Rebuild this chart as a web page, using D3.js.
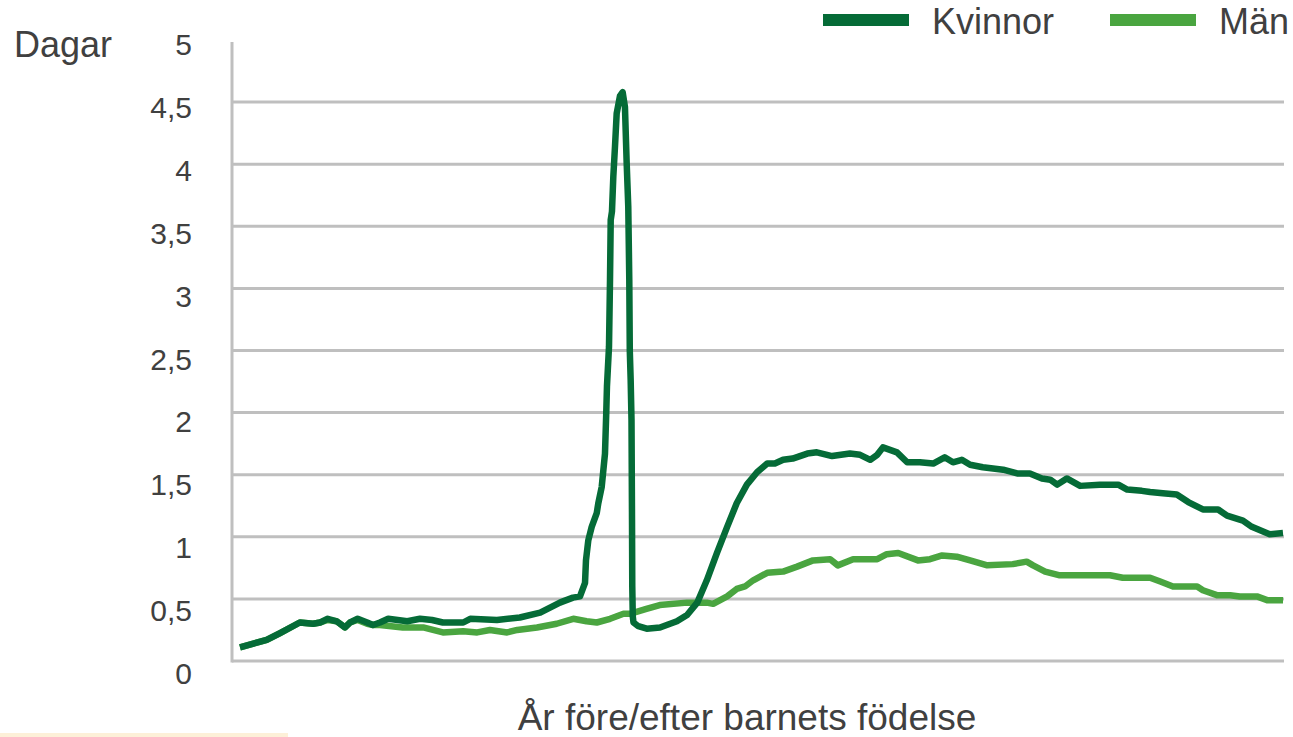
<!DOCTYPE html>
<html>
<head>
<meta charset="utf-8">
<script src="https://cdn.jsdelivr.net/npm/d3@7"></script>
<style>
  body { margin: 0; background: #fff; }
  svg { display: block; font-family: "Liberation Sans", Arial, sans-serif; }
</style>
</head>
<body>
<svg id="chart"></svg>
<script>
// manader relativt barnets fodelse (avlast ur bilden)
const manaderKvinnor = [-60, -55.8, -53.7, -50.6, -48.5, -47.4, -46.2, -44.8, -43.5, -42.7, -41.5, -40.0, -39.1, -38.0, -36.7,
  -33.7, -31.7, -29.8, -28.1, -24.9, -23.8, -19.6, -16.0, -12.8, -9.7, -9.2, -7.64, -6.54, -5.75, -5.6, -5.24, -4.7,
  -3.91, -3.66, -3.13, -2.61, -2.41, -2.3, -1.98, -1.82, -1.71, -1.51, -1.3, -1.04, -0.77, -0.25, 0.17, 0.53, 0.8,
  1.05, 1.21, 1.29, 1.43, 1.56, 1.64, 1.68, 1.76, 1.87, 2.63, 3.95, 6.04, 8.7, 10.3, 11.9, 13.4, 15.0, 16.6, 18.1,
  19.7, 21.3, 22.9, 24.1, 25.4, 26.9, 29.2, 30.7, 33.1, 35.9, 37.5, 39.1, 40.2, 41.1, 43.3, 44.9, 46.9, 49.0, 50.8,
  52.1, 53.5, 54.8, 56.8, 60.0, 62.2, 64.2, 66.1, 67.4, 68.5, 70.0, 72.1, 75.2, 78.1, 79.5, 81.8, 83.1, 85.1, 87.3,
  89.1, 91.4, 93.8, 95.2, 97.7, 99.1, 101.9, 104];
const kvinnor = [0.11, 0.17, 0.225, 0.31, 0.30, 0.31, 0.34, 0.32, 0.27, 0.31, 0.34, 0.31, 0.29, 0.31, 0.34,
  0.32, 0.34, 0.33, 0.31, 0.31, 0.34, 0.33, 0.35, 0.39, 0.47, 0.48, 0.51, 0.52, 0.63, 0.81, 0.97, 1.08,
  1.19, 1.27, 1.40, 1.67, 2.0, 2.21, 2.53, 3.07, 3.55, 3.62, 3.90, 4.14, 4.41, 4.55, 4.58, 4.46, 4.01,
  3.66, 3.07, 2.50, 2.26, 1.94, 1.14, 0.60, 0.36, 0.31, 0.28, 0.26, 0.27, 0.32, 0.37, 0.47, 0.65, 0.87, 1.08, 1.27,
  1.42, 1.52, 1.59, 1.59, 1.62, 1.63, 1.67, 1.68, 1.65, 1.67, 1.66, 1.62, 1.66, 1.72, 1.68, 1.60, 1.60, 1.59, 1.64,
  1.60, 1.62, 1.58, 1.56, 1.54, 1.51, 1.51, 1.47, 1.46, 1.42, 1.47, 1.41, 1.42, 1.42, 1.38, 1.37, 1.36, 1.35, 1.34,
  1.28, 1.22, 1.22, 1.17, 1.13, 1.08, 1.02, 1.03];

// i borjan ligger man-linjen dold under kvinno-linjen
const manaderMan = [-60, -55.8, -53.7, -50.6, -48.5, -47.4, -46.2, -44.8, -43.5, -42.7, -41.5, -40.0, -39.1, -38.0,
  -34.4, -31.2, -28.1, -24.9, -22.7, -20.7, -18.0, -16.4,
  -13.3, -10.2, -7.6, -5.5, -3.9, -1.8, 0.3, 1.3, 3.9, 6.0, 10.3, 13.4, 14.4, 16.6, 18.1, 19.4, 20.7, 22.9, 25.4,
  27.6, 30.1, 32.8, 34.0, 36.4, 40.2, 41.7, 43.5, 46.6, 48.5, 50.4, 52.7, 54.8, 57.5, 61.5, 63.7, 64.7, 66.6, 68.9,
  73.2, 76.8, 78.8, 83.1, 84.7, 86.7, 90.5, 91.4, 93.6, 95.7, 97.2, 99.9, 101.5, 104];
const man = [0.11, 0.17, 0.225, 0.31, 0.30, 0.31, 0.33, 0.32, 0.27, 0.31, 0.33, 0.30, 0.29, 0.29,
  0.27, 0.27, 0.23, 0.24, 0.23, 0.25, 0.23, 0.25,
  0.27, 0.30, 0.34, 0.32, 0.31, 0.34, 0.38, 0.38, 0.42, 0.45, 0.47, 0.47, 0.46, 0.52, 0.58, 0.60, 0.65, 0.71, 0.72,
  0.76, 0.81, 0.82, 0.77, 0.82, 0.82, 0.86, 0.87, 0.81, 0.82, 0.85, 0.84, 0.81, 0.77, 0.78, 0.80, 0.77, 0.72, 0.69,
  0.69, 0.69, 0.67, 0.67, 0.64, 0.60, 0.60, 0.57, 0.53, 0.53, 0.52, 0.52, 0.49, 0.49];

const yTicks = [0, 0.5, 1, 1.5, 2, 2.5, 3, 3.5, 4, 4.5, 5];
const serier = [
  { namn: "Män", x: manaderMan, y: man, farg: "#4aa540" },
  { namn: "Kvinnor", x: manaderKvinnor, y: kvinnor, farg: "#056b37" }
];
const legendOrdning = ["Kvinnor", "Män"];

const width = 1293, height = 737;
const textColor = "#404040";
const gridColor = "#bfbfbf";

const svg = d3.select("#chart")
  .attr("width", width)
  .attr("height", height);

const x = d3.scaleLinear().domain([-60, 104]).range([240, 1283]);
const y = d3.scaleLinear().domain([0, 5]).range([661, 40]);
// etiketterna sitter lite under linjerna
const yLabel = d3.scaleLinear().domain([0, 5]).range([684, 55]);

// stodlinjer
svg.append("g")
  .selectAll("line")
  .data(yTicks.filter(d => d > 0 && d < 5))
  .enter()
  .append("line")
  .attr("x1", 232)
  .attr("x2", 1284)
  .attr("y1", d => y(d))
  .attr("y2", d => y(d))
  .attr("stroke", gridColor)
  .attr("stroke-width", 3);

// axlar
svg.append("line")
  .attr("x1", 232).attr("x2", 1284)
  .attr("y1", y(0)).attr("y2", y(0))
  .attr("stroke", gridColor).attr("stroke-width", 3);
svg.append("line")
  .attr("x1", 232).attr("x2", 232)
  .attr("y1", 42).attr("y2", y(0) + 1.5)
  .attr("stroke", gridColor).attr("stroke-width", 3);

svg.append("g")
  .selectAll("text")
  .data(yTicks)
  .enter()
  .append("text")
  .attr("x", 192)
  .attr("y", d => yLabel(d))
  .attr("text-anchor", "end")
  .attr("font-size", 30)
  .attr("fill", textColor)
  .text(d => String(d).replace(".", ","));

svg.append("text")
  .attr("x", 14)
  .attr("y", 57)
  .attr("font-size", 36)
  .attr("fill", textColor)
  .text("Dagar");

svg.append("text")
  .attr("x", 747)
  .attr("y", 730)
  .attr("text-anchor", "middle")
  .attr("font-size", 37)
  .attr("fill", textColor)
  .text("År före/efter barnets födelse");

// linjer
const line = d3.line()
  .x(d => x(d[0]))
  .y(d => y(d[1]));

svg.append("g")
  .selectAll("path")
  .data(serier)
  .enter()
  .append("path")
  .attr("d", s => line(s.x.map((m, i) => [m, s.y[i]])))
  .attr("fill", "none")
  .attr("stroke", s => s.farg)
  .attr("stroke-width", 6.5)
  .attr("stroke-linejoin", "round")
  .attr("stroke-linecap", "butt");

// legend
const legendX = [823, 1110];
const legend = svg.append("g")
  .selectAll("g")
  .data(legendOrdning.map(n => serier.find(s => s.namn === n)))
  .enter()
  .append("g")
  .attr("transform", (d, i) => "translate(" + legendX[i] + ",0)");

legend.append("rect")
  .attr("x", 0)
  .attr("y", 14)
  .attr("width", 86)
  .attr("height", 12)
  .attr("fill", d => d.farg);

legend.append("text")
  .attr("x", 109)
  .attr("y", 34)
  .attr("font-size", 36)
  .attr("fill", textColor)
  .text(d => d.namn);

// ljus list nere till vanster
svg.append("rect")
  .attr("x", 0)
  .attr("y", 733)
  .attr("width", 288)
  .attr("height", 4)
  .attr("fill", "#fdf0d8");
</script>
</body>
</html>
